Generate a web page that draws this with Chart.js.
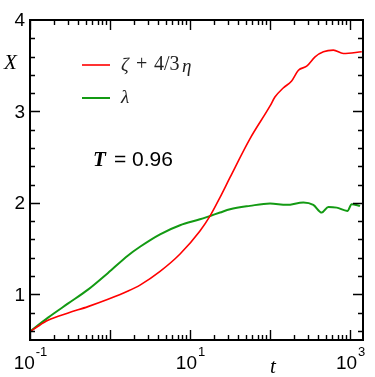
<!DOCTYPE html>
<html>
<head>
<meta charset="utf-8">
<script src="https://cdn.jsdelivr.net/npm/chart.js@4.4.1/dist/chart.umd.min.js"></script>
<style>
  html, body { margin: 0; padding: 0; background: #fff; }
  #wrap { width: 375px; height: 377px; }
</style>
</head>
<body>
<div id="wrap"><canvas id="c" width="375" height="377"></canvas></div>
<script>
// ---- data ----
const redT = [0.1, 0.126, 0.168, 0.3, 0.53, 0.944, 1.68, 2.37, 4.22, 7.5, 13.3, 17.8, 23.7, 31.6, 56, 100, 115, 146, 186, 226, 287, 365, 464, 618, 824, 1400];
const redV = [0.59, 0.65, 0.715, 0.795, 0.865, 0.945, 1.035, 1.10, 1.25, 1.44, 1.692, 1.857, 2.06, 2.278, 2.70, 3.06, 3.157, 3.256, 3.333, 3.45, 3.495, 3.597, 3.652, 3.67, 3.634, 3.652];
const greenT = [0.1, 0.168, 0.3, 0.53, 0.944, 1.68, 2.37, 4.22, 7.5, 13.3, 17.8, 23.7, 31.6, 56, 100, 161, 261, 347, 443, 536, 681, 925, 1047, 1334];
const greenV = [0.593, 0.745, 0.9, 1.051, 1.234, 1.425, 1.52, 1.656, 1.755, 1.82, 1.857, 1.894, 1.93, 1.967, 1.993, 1.978, 2.004, 1.978, 1.894, 1.956, 1.948, 1.912, 1.986, 1.967];
const seriesLabels = ['ζ + 4/3η', 'λ'];
const xTickLabels = [{v: 0.1, base: '10', exp: '-1'}, {v: 10, base: '10', exp: '1'}, {v: 1000, base: '10', exp: '3'}];
const yTickLabels = ['1', '2', '3', '4'];
const yMajor = [1, 2, 3, 4];
const annotationText = ['T', '= 0.96'];

const X_MIN = 0.1, X_MAX = 1450, Y_MIN = 0.5, Y_MAX = 4;
const RED = '#ff0000', GREEN = '#139a13';

function pts(ts, vs) { return ts.map((t, i) => ({x: t, y: vs[i]})); }

const decorations = {
  id: 'decorations',
  afterDraw(chart) {
    const ctx = chart.ctx, a = chart.chartArea;
    const xs = chart.scales.x, ys = chart.scales.y;
    ctx.save();
    ctx.strokeStyle = '#000';
    ctx.fillStyle = '#000';
    // ticks (inward)
    ctx.lineWidth = 1.4;
    const majLen = 10, minLen = 5;
    ctx.beginPath();
    for (let k = -1; k <= 3; k++) {
      for (let m = 1; m <= 9; m++) {
        const v = m * Math.pow(10, k);
        if (v < X_MIN || v > X_MAX) continue;
        const px = Math.round(xs.getPixelForValue(v)) + 0.5;
        const len = m === 1 ? majLen : minLen;
        ctx.moveTo(px, a.bottom); ctx.lineTo(px, a.bottom - len);
        ctx.moveTo(px, a.top); ctx.lineTo(px, a.top + len);
      }
    }
    for (let i = 0; i <= 35; i++) {
      const vv = Math.round((Y_MIN + i * 0.1) * 10) / 10;
      if (Math.round(vv * 10) % 2 === 1) continue;
      if (vv <= Y_MIN || vv >= Y_MAX) continue;
      const py = Math.round(ys.getPixelForValue(vv)) + 0.5;
      const len = yMajor.includes(vv) ? majLen : minLen;
      ctx.moveTo(a.left, py); ctx.lineTo(a.left + len, py);
      ctx.moveTo(a.right, py); ctx.lineTo(a.right - len, py);
    }
    ctx.stroke();
    // frame
    ctx.lineWidth = 2;
    ctx.strokeRect(a.left, a.top, a.right - a.left, a.bottom - a.top);

    // y tick labels
    ctx.font = '19px "Liberation Sans", Arial, sans-serif';
    ctx.textAlign = 'right';
    ctx.textBaseline = 'middle';
    yMajor.forEach((v, i) => {
      ctx.fillText(yTickLabels[i], a.left - 5, ys.getPixelForValue(v) + 1);
    });
    // x tick labels with superscripts
    ctx.textBaseline = 'alphabetic';
    ctx.textAlign = 'left';
    xTickLabels.forEach(t => {
      ctx.font = '19px "Liberation Sans", Arial, sans-serif';
      const wb = ctx.measureText(t.base).width;
      ctx.font = '13px "Liberation Sans", Arial, sans-serif';
      const we = ctx.measureText(t.exp).width;
      const cx = xs.getPixelForValue(t.v);
      const x0 = cx - (wb + we) / 2;
      ctx.font = '19px "Liberation Sans", Arial, sans-serif';
      ctx.fillText(t.base, x0, a.bottom + 29);
      ctx.font = '13px "Liberation Sans", Arial, sans-serif';
      ctx.fillText(t.exp, x0 + wb + 1, a.bottom + 16);
    });
    // axis titles
    ctx.font = 'italic 21px "Liberation Serif", "Times New Roman", serif';
    ctx.textAlign = 'left';
    ctx.textBaseline = 'middle';
    ctx.fillText('X', a.left - 26, a.top + 43);
    ctx.textBaseline = 'alphabetic';
    ctx.fillText('t', a.left + 240, a.bottom + 33);

    // legend
    const lx = a.left + 52, ly1 = a.top + 45, ly2 = a.top + 78;
    ctx.lineWidth = 1.6;
    ctx.strokeStyle = RED;
    ctx.beginPath(); ctx.moveTo(lx, ly1); ctx.lineTo(lx + 28, ly1); ctx.stroke();
    ctx.strokeStyle = GREEN;
    ctx.lineWidth = 2;
    ctx.beginPath(); ctx.moveTo(lx, ly2); ctx.lineTo(lx + 28, ly2); ctx.stroke();
    ctx.fillStyle = '#222';
    ctx.textBaseline = 'middle';
    const tx = lx + 39;
    const lab = seriesLabels[0];
    ctx.font = 'italic 19px "Liberation Serif", "Times New Roman", serif';
    ctx.fillText(lab.charAt(0), tx, ly1 + 1);
    ctx.font = '20px "Liberation Serif", "Times New Roman", serif';
    ctx.fillText('+', tx + 15, ly1);
    ctx.fillText('4/3', tx + 33, ly1);
    ctx.font = 'italic 19px "Liberation Serif", "Times New Roman", serif';
    ctx.fillText(lab.charAt(lab.length - 1), tx + 61, ly1 + 2);
    ctx.fillText(seriesLabels[1], tx, ly2);

    // T = 0.96
    ctx.fillStyle = '#000';
    ctx.font = 'italic bold 21px "Liberation Serif", "Times New Roman", serif';
    ctx.fillText(annotationText[0], a.left + 63, a.top + 141);
    ctx.font = '21px "Liberation Sans", Arial, sans-serif';
    ctx.fillText(annotationText[1], a.left + 84, a.top + 140);
    ctx.restore();
  }
};

new Chart(document.getElementById('c'), {
  type: 'scatter',
  data: {
    datasets: [
      { label: seriesLabels[0], data: pts(redT, redV), showLine: true, borderColor: RED, borderWidth: 1.6, pointRadius: 0, cubicInterpolationMode: 'monotone' },
      { label: seriesLabels[1], data: pts(greenT, greenV), showLine: true, borderColor: GREEN, borderWidth: 2, pointRadius: 0, cubicInterpolationMode: 'monotone' }
    ]
  },
  options: {
    responsive: false,
    animation: false,
    clip: true,
    layout: { padding: { left: 30, top: 20, right: 12, bottom: 37 } },
    plugins: { legend: { display: false }, tooltip: { enabled: false } },
    scales: {
      x: { type: 'logarithmic', min: X_MIN, max: X_MAX, display: false },
      y: { type: 'linear', min: Y_MIN, max: Y_MAX, display: false }
    }
  },
  plugins: [decorations]
});
</script>
</body>
</html>
